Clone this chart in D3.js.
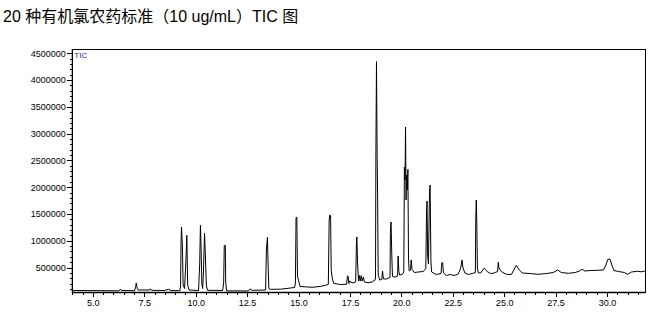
<!DOCTYPE html>
<html>
<head>
<meta charset="utf-8">
<script src="https://cdn.jsdelivr.net/npm/d3@7/dist/d3.min.js"></script>
<style>
  html, body { margin: 0; padding: 0; background: #fff; }
  svg { display: block; }
</style>
</head>
<body>
<svg id="chart" width="668" height="332"></svg>
<script>
// ---- data ----
const titleText = "20 种有机氯农药标准（10 ug/mL）TIC 图";
const seriesName = "TIC";

// retention time (min)
const time = [
  4.00, 6.27, 6.34, 6.39, 7.03, 7.08, 7.11, 7.16, 7.20, 7.76, 7.80, 7.85, 8.46, 8.68, 8.80, 9.23,
  9.265, 9.29, 9.31, 9.35, 9.39, 9.46, 9.53, 9.57, 9.61, 9.68, 10.14,
  10.195, 10.23, 10.26, 10.30, 10.34, 10.38, 10.43, 10.47, 10.52, 10.58, 11.31,
  11.36, 11.39, 11.44, 11.46, 11.50, 12.55, 12.65, 12.74, 13.40,
  13.44, 13.49, 13.52, 13.56, 13.62, 14.11, 14.50, 14.81,
  14.85, 14.88, 14.92, 14.95, 15.00, 15.08, 15.32, 15.66, 16.05, 16.30, 16.45,
  16.49, 16.52, 16.56, 16.59, 16.64, 16.71, 17.03, 17.34,
  17.38, 17.42, 17.45, 17.49, 17.61, 17.78,
  17.82, 17.84, 17.87, 17.92, 17.96, 18.00, 18.05, 18.09, 18.16, 18.20, 18.39, 18.58, 18.72,
  18.745, 18.764, 18.793, 18.823, 18.847, 18.876, 18.95, 19.05, 19.085, 19.13, 19.27, 19.45,
  19.47, 19.50, 19.54, 19.57, 19.70, 19.82, 19.845, 19.88, 19.92, 20.04, 20.12,
  20.15, 20.18, 20.205, 20.23, 20.26, 20.29, 20.32, 20.35, 20.38, 20.45, 20.48, 20.52, 20.63, 20.82, 21.07, 21.19,
  21.23, 21.25, 21.28, 21.32, 21.37, 21.40, 21.44, 21.475, 21.55, 21.70, 21.93, 21.97, 22.01, 22.05,
  22.19, 22.38, 22.57, 22.77, 22.89, 22.95, 23.00, 23.09, 23.26, 23.45, 23.60,
  23.62, 23.645, 23.67, 23.70, 23.75, 23.86, 24.02, 24.18, 24.33, 24.52, 24.68, 24.715, 24.75, 24.86,
  25.10, 25.35, 25.47, 25.59, 25.74, 25.88, 26.27, 26.66, 27.05, 27.39, 27.60, 27.78, 28.12, 28.46,
  28.66, 28.79, 28.93, 29.19, 29.53, 29.83, 29.95, 30.04, 30.14, 30.24, 30.34, 30.56, 30.85, 31.01,
  31.19, 31.48, 31.67, 31.845
];

// abundance (counts)
const intensity = [
  71000, 65000, 99000, 71000, 67000, 146000, 211000, 108000, 80000, 80000, 103000, 75000, 71000, 93000, 71000, 67000,
  155000, 1014000, 1257000, 958000, 174000, 108000, 678000, 1102000, 174000, 80000, 71000,
  566000, 1289000, 921000, 192000, 108000, 441000, 1139000, 734000, 155000, 75000, 71000,
  211000, 911000, 915000, 230000, 65000, 62000, 99000, 75000, 80000,
  846000, 1064000, 566000, 108000, 93000, 95000, 112000, 127000,
  211000, 1434000, 1438000, 342000, 258000, 146000, 140000, 131000, 146000, 168000, 183000,
  1387000, 1481000, 1462000, 454000, 304000, 205000, 183000, 187000,
  342000, 332000, 202000, 248000, 211000, 230000,
  1014000, 1070000, 603000, 248000, 351000, 248000, 351000, 248000, 323000, 230000, 215000, 230000, 267000,
  304000, 2663000, 4344000, 2601000, 1854000, 360000, 267000, 276000, 435000, 286000, 286000, 314000,
  1150000, 1350000, 678000, 332000, 323000, 342000, 715000, 426000, 360000, 370000, 416000,
  2372000, 2134000, 3124000, 1761000, 2228000, 1948000, 2334000, 678000, 435000, 454000, 641000, 463000, 407000, 416000, 426000, 482000,
  1574000, 1742000, 734000, 566000, 1910000, 2041000, 603000, 416000, 398000, 370000, 388000, 590000, 590000, 398000,
  351000, 370000, 351000, 379000, 491000, 641000, 491000, 398000, 370000, 388000, 407000,
  1387000, 1761000, 1350000, 491000, 398000, 398000, 486000, 426000, 388000, 398000, 426000, 598000, 491000, 426000,
  373000, 370000, 454000, 542000, 454000, 398000, 388000, 373000, 388000, 407000, 454000, 407000, 392000, 407000,
  435000, 467000, 435000, 444000, 448000, 454000, 547000, 650000, 659000, 547000, 444000, 426000, 407000, 373000,
  416000, 431000, 420000, 435000
];

const xDomain = [4.0, 31.85];
const yDomain = [33600, 4580000];
const xLabelTicks = [5.0, 7.5, 10.0, 12.5, 15.0, 17.5, 20.0, 22.5, 25.0, 27.5, 30.0];
const yLabelTicks = [500000, 1000000, 1500000, 2000000, 2500000, 3000000, 3500000, 4000000, 4500000];

// ---- layout ----
const svg = d3.select("#chart");
const plot = { left: 72.3, top: 49, right: 645, bottom: 292.5 };

const x = d3.scaleLinear().domain(xDomain).range([plot.left, plot.right]);
const y = d3.scaleLinear().domain(yDomain).range([plot.bottom, plot.top]);

// title
svg.append("text")
  .attr("x", 3)
  .attr("y", 21.5)
  .attr("font-family", "'Liberation Sans', Arial, 'Noto Sans CJK SC', sans-serif")
  .attr("font-size", 16)
  .attr("fill", "#000")
  .text(titleText);

// minor tick values
const xMinor = d3.range(4.0, 31.85, 0.5).filter(v => Math.abs((v / 2.5) - Math.round(v / 2.5)) > 1e-6);
const yMinor = d3.range(100000, 4580000, 100000).filter(v => v % 500000 !== 0);

const font = "'Liberation Sans', Arial, sans-serif";

// x axis (bottom)
const xAxis = d3.axisBottom(x).tickValues(xLabelTicks).tickSize(4.5).tickPadding(3)
  .tickFormat(d3.format(".1f"));
const gx = svg.append("g").attr("transform", `translate(0,${plot.bottom})`).call(xAxis);
gx.select(".domain").remove();
gx.selectAll("text").attr("font-family", font).attr("font-size", 9).attr("fill", "#000");
gx.selectAll("line").attr("stroke", "#000").attr("shape-rendering", "crispEdges");

const xAxisMinor = d3.axisBottom(x).tickValues(xMinor).tickSize(2.5).tickFormat("");
const gxm = svg.append("g").attr("transform", `translate(0,${plot.bottom})`).call(xAxisMinor);
gxm.select(".domain").remove();
gxm.selectAll("line").attr("stroke", "#000").attr("shape-rendering", "crispEdges");

// y axis (left)
const yAxis = d3.axisLeft(y).tickValues(yLabelTicks).tickSize(5).tickPadding(1.5)
  .tickFormat(d3.format("d"));
const gy = svg.append("g").attr("transform", `translate(${plot.left},0)`).call(yAxis);
gy.select(".domain").remove();
gy.selectAll("text").attr("font-family", font).attr("font-size", 9).attr("fill", "#000");
gy.selectAll("line").attr("stroke", "#000").attr("shape-rendering", "crispEdges");

const yAxisMinor = d3.axisLeft(y).tickValues(yMinor).tickSize(2.5).tickFormat("");
const gym = svg.append("g").attr("transform", `translate(${plot.left},0)`).call(yAxisMinor);
gym.select(".domain").remove();
gym.selectAll("line").attr("stroke", "#000").attr("shape-rendering", "crispEdges");

// frame
svg.append("rect")
  .attr("x", plot.left).attr("y", plot.top)
  .attr("width", plot.right - plot.left).attr("height", plot.bottom - plot.top)
  .attr("fill", "none").attr("stroke", "#000").attr("stroke-width", 1)
  .attr("shape-rendering", "crispEdges");
svg.append("line")
  .attr("x1", plot.left).attr("x2", plot.right)
  .attr("y1", plot.bottom).attr("y2", plot.bottom)
  .attr("stroke", "#000").attr("stroke-width", 1.5);
svg.append("line")
  .attr("x1", plot.left).attr("x2", plot.left)
  .attr("y1", plot.top).attr("y2", plot.bottom)
  .attr("stroke", "#000").attr("stroke-width", 1.2);

// trace
const pts = time.map((t, i) => [t, intensity[i]]);
const line = d3.line().x(d => x(d[0])).y(d => y(d[1]));
svg.append("path")
  .datum(pts)
  .attr("d", line)
  .attr("fill", "none")
  .attr("stroke", "#000")
  .attr("stroke-width", 1)
  .attr("stroke-linejoin", "miter");

// series label
svg.append("text")
  .attr("x", plot.left + 2)
  .attr("y", plot.top + 8.5)
  .attr("font-family", font)
  .attr("font-size", 8)
  .attr("fill", "#33337a")
  .text(seriesName);
</script>
</body>
</html>
